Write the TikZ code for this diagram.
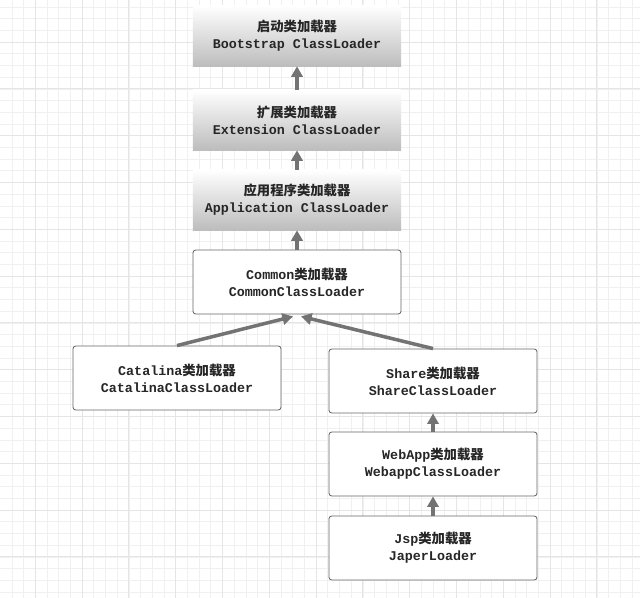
\documentclass[tikz,border=0pt]{standalone}
\usepackage{fontspec}
\setmonofont{Liberation Mono}
\newfontfamily\cjk{Noto Sans CJK SC}
\usetikzlibrary{arrows.meta}
\newcommand{\zh}[1]{{\cjk\bfseries #1}}

\tikzset{
  gridminor/.style={draw=black!6, line width=0.4pt},
  gridmajor/.style={draw=black!10, line width=0.5pt},
  testo/.style={align=center, font=\ttfamily\bfseries\fontsize{9.5}{12}\selectfont, text=black!85},
  topbox/.style={testo, minimum width=5.2cm, minimum height=1.5cm, top color=white, middle color=black!5, bottom color=black!26},
  lowbox/.style={testo, minimum width=5.2cm, minimum height=1.6cm, draw=black!60, fill=white, rounded corners=2pt, line width=0.6pt},
  freccia/.style={draw=black!55, line width=2.5pt, -{Triangle[length=7.5pt,width=8pt]}}
}

\begin{document}
\begin{tikzpicture}[x=0.025cm, y=-0.025cm]
        \useasboundingbox (0,0) rectangle (640,598);

        % Griglia di sfondo
        \fill[white] (0,0) rectangle (640,598);
        \foreach \i in {0,...,53} {
            \draw[gridminor] (11.8+\i*11.7,0) -- (11.8+\i*11.7,598);
        }
        \foreach \i in {0,...,50} {
            \draw[gridminor] (0,6.9+\i*11.7) -- (640,6.9+\i*11.7);
        }
        \foreach \j in {0,...,13} {
            \draw[gridmajor] (35.2+\j*46.8,0) -- (35.2+\j*46.8,598);
        }
        \foreach \j in {0,...,11} {
            \draw[gridmajor] (0,42+\j*46.8) -- (640,42+\j*46.8);
        }

        % Caricatori di sistema (sfumati)
        \node[topbox] (boot) at (297,36) {\zh{启动类加载器}\\Bootstrap ClassLoader};
        \node[topbox] (ext) at (297,120) {\zh{扩展类加载器}\\Extension ClassLoader};
        \node[topbox] (app) at (297,200) {\zh{应用程序类加载器}\\Application ClassLoader};

        % Caricatori di Tomcat
        \node[lowbox] (common) at (297,282) {Common\zh{类加载器}\\CommonClassLoader};
        \node[lowbox] (catalina) at (177,378) {Catalina\zh{类加载器}\\CatalinaClassLoader};
        \node[lowbox] (share) at (433,381) {Share\zh{类加载器}\\ShareClassLoader};
        \node[lowbox] (webapp) at (433,464) {WebApp\zh{类加载器}\\WebappClassLoader};
        \node[lowbox] (jsp) at (433,548) {Jsp\zh{类加载器}\\JaperLoader};

        % Frecce verso il genitore
        \draw[freccia] (ext.north) -- (boot.south);
        \draw[freccia] (app.north) -- (ext.south);
        \draw[freccia] (common.north) -- (app.south);
        \draw[freccia] (catalina.north) -- ([xshift=-0.1cm, yshift=-0.05cm]common.south);
        \draw[freccia] (share.north) -- ([xshift=0.1cm, yshift=-0.05cm]common.south);
        \draw[freccia] (webapp.north) -- (share.south);
        \draw[freccia] (jsp.north) -- (webapp.south);
    \end{tikzpicture}
\end{document}
